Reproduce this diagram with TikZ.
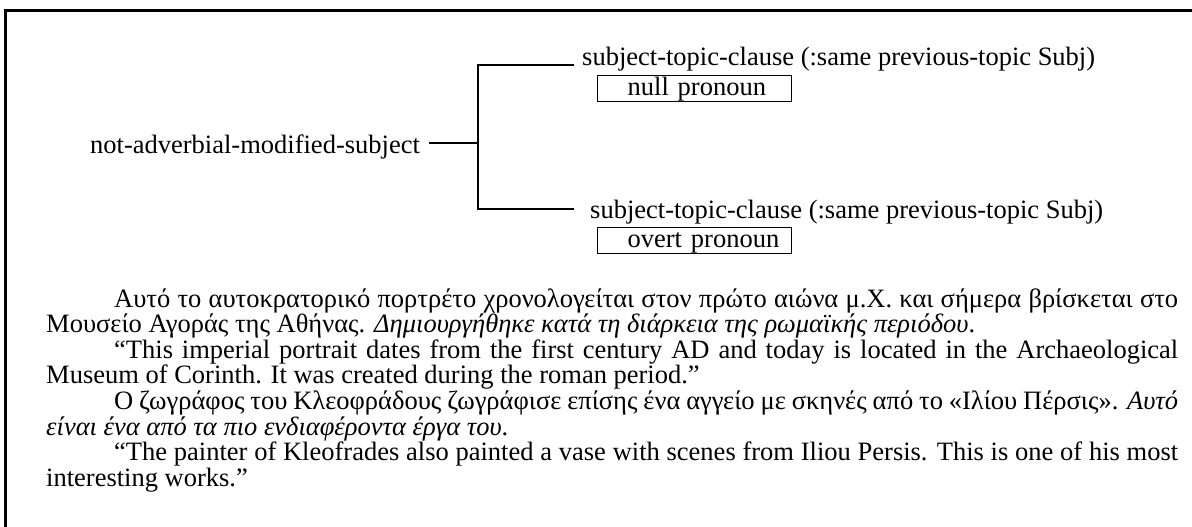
\documentclass[tikz,border=0pt]{standalone}
\usepackage{fontspec}
\setmainfont{Liberation Serif}
\begin{document}
\begin{tikzpicture}[x=1pt,y=-1pt,
  txt/.style={font=\fontsize{26.5}{30}\selectfont, inner sep=0pt, anchor=base west},
  conn/.style={line width=1.3pt},
  pbox/.style={draw, line width=1.3pt, font=\fontsize{26.5}{30}\selectfont,
    text width=194pt, inner xsep=0pt, inner ysep=1pt, align=left,
    text height=19pt, text depth=5pt, anchor=north west},
  frameline/.style={line width=3pt}]
\useasboundingbox (0,0) rectangle (1192,527);
\fill[white] (0,0) rectangle (1192,527);
\draw[frameline] (5.5,527) -- (5.5,10.5) -- (1192,10.5);

% diagram
\node[txt] (root) at (90,153) {not-adverbial-modified-subject};
\node[txt] (top) at (582,66) {subject-topic-clause (:same previous-topic Subj)};
\node[pbox] (nullb) at (597,75) {\hspace*{30pt}null pronoun};
\node[txt] (bot) at (590,218) {subject-topic-clause (:same previous-topic Subj)};
\node[pbox] (overtb) at (597,227) {\hspace*{30pt}overt pronoun};

\coordinate (j) at (478,143);
\coordinate (s) at (429,143);
\coordinate (t) at (574,65);
\coordinate (b) at (574,209);
\draw[conn] (s) -- (j);
\draw[conn] (t) -| (j) |- (b);

% body text
\node[txt] (l1) at (114,307) {\makebox[1064pt][s]{Αυτό το αυτοκρατορικό πορτρέτο χρονολογείται στον πρώτο αιώνα μ.Χ. και σήμερα βρίσκεται στο}};
\node[txt] (l2) at (46,332.6) {Μουσείο Αγοράς της Αθήνας. \textit{Δημιουργήθηκε κατά τη διάρκεια της ρωμαϊκής περιόδου}.};
\node[txt] (l3) at (114,358.2) {\makebox[1064pt][s]{“This imperial portrait dates from the first century AD and today is located in the Archaeological}};
\node[txt] (l4) at (46,383.8) {Museum of Corinth. It was created during the roman period.”};
\node[txt] (l5) at (114,409.4) {\makebox[1064pt][s]{Ο ζωγράφος του Κλεοφράδους ζωγράφισε επίσης ένα αγγείο με σκηνές από το «Ιλίου Πέρσις». \textit{Αυτό}}};
\node[txt] (l6) at (46,435) {\textit{είναι ένα από τα πιο ενδιαφέροντα έργα του}.};
\node[txt] (l7) at (114,460.6) {\makebox[1064pt][s]{“The painter of Kleofrades also painted a vase with scenes from Iliou Persis. This is one of his most}};
\node[txt] (l8) at (46,486.2) {interesting works.”};
\end{tikzpicture}
\end{document}
